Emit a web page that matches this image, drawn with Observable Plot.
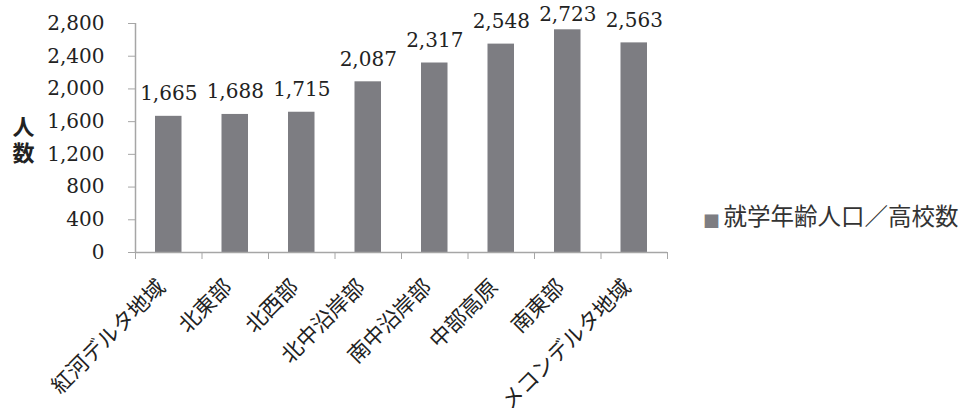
<!DOCTYPE html>
<html>
<head>
<meta charset="utf-8">
<script src="https://cdn.jsdelivr.net/npm/d3@7"></script>
<script src="https://cdn.jsdelivr.net/npm/@observablehq/plot@0.6"></script>
<style>
  html, body { margin: 0; padding: 0; background: #fff; }
  #chart svg { display: block; overflow: visible; }
</style>
</head>
<body>
<div id="chart"></div>
<script>
const regions = ["紅河デルタ地域", "北東部", "北西部", "北中沿岸部", "南中沿岸部", "中部高原", "南東部", "メコンデルタ地域"];
const values = [1665, 1688, 1715, 2087, 2317, 2548, 2723, 2563];
const yTicks = [0, 400, 800, 1200, 1600, 2000, 2400, 2800];
const seriesName = "就学年齢人口／高校数";
const yLabelChars = ["人", "数"];

const data = regions.map((r, i) => ({region: r, i, value: values[i]}));
const bounds = d3.range(0, regions.length + 1);
// data labels are kept inside the plot area, as the original spreadsheet chart does
const labelCap = 2630;

const numFont = "'DejaVu Serif', 'Liberation Serif', serif";
const jpFont = "'Noto Sans CJK JP', 'Noto Sans', sans-serif";
const barColor = "#7d7d82";
const axisColor = "#a6a6a6";
const textColor = "#222";

const chart = Plot.plot({
  width: 967,
  height: 418,
  marginLeft: 135,
  marginRight: 300,
  marginTop: 23,
  marginBottom: 166,
  style: {background: "#fff", color: textColor},
  x: {type: "linear", domain: [0, regions.length], axis: null},
  y: {domain: [0, 2800], axis: null},
  marks: [
    Plot.rectY(data, {x1: "i", x2: d => d.i + 1, y: "value", fill: barColor, insetLeft: 20, insetRight: 20}),
    Plot.axisY({ticks: yTicks, tickSize: 7, tickPadding: 24, stroke: axisColor, strokeOpacity: 1,
      tickFormat: d3.format(","), fontSize: 20, fontFamily: numFont, fill: textColor, label: null}),
    Plot.axisX({ticks: bounds, tickSize: 7, tickFormat: () => "", stroke: axisColor, strokeOpacity: 1, label: null}),
    Plot.ruleY([0], {stroke: axisColor, strokeWidth: 1.5}),
    Plot.ruleX([0], {stroke: axisColor, strokeWidth: 1.5}),
    Plot.text(data, {x: d => d.i + 0.5, y: d => Math.min(d.value, labelCap), text: d => d3.format(",")(d.value),
      dy: -16, lineAnchor: "bottom", fontSize: 20, fontFamily: numFont, fill: textColor}),
    Plot.text(data, {x: d => d.i + 0.5, y: 0, text: "region", rotate: -45, textAnchor: "end", lineAnchor: "bottom",
      dx: -2, dy: 36, fontSize: 21.5, fontFamily: jpFont, fill: textColor}),
    Plot.text([yLabelChars[0]], {frameAnchor: "left", textAnchor: "middle", dx: -112, dy: -10, fontSize: 22,
      fontWeight: "bold", fontFamily: jpFont, fill: textColor}),
    Plot.text([yLabelChars[1]], {frameAnchor: "left", textAnchor: "middle", dx: -112, dy: 16, fontSize: 22,
      fontWeight: "bold", fontFamily: jpFont, fill: textColor}),
    Plot.text(["■"], {frameAnchor: "bottom-right", dx: 44, dy: -25, textAnchor: "middle", fontSize: 17,
      fontFamily: jpFont, fill: barColor}),
    Plot.text([seriesName], {frameAnchor: "bottom-right", dx: 56, dy: -28, textAnchor: "start", fontSize: 23.5,
      fontFamily: jpFont, fill: "#333"})
  ]
});
document.getElementById("chart").append(chart);
</script>
</body>
</html>
